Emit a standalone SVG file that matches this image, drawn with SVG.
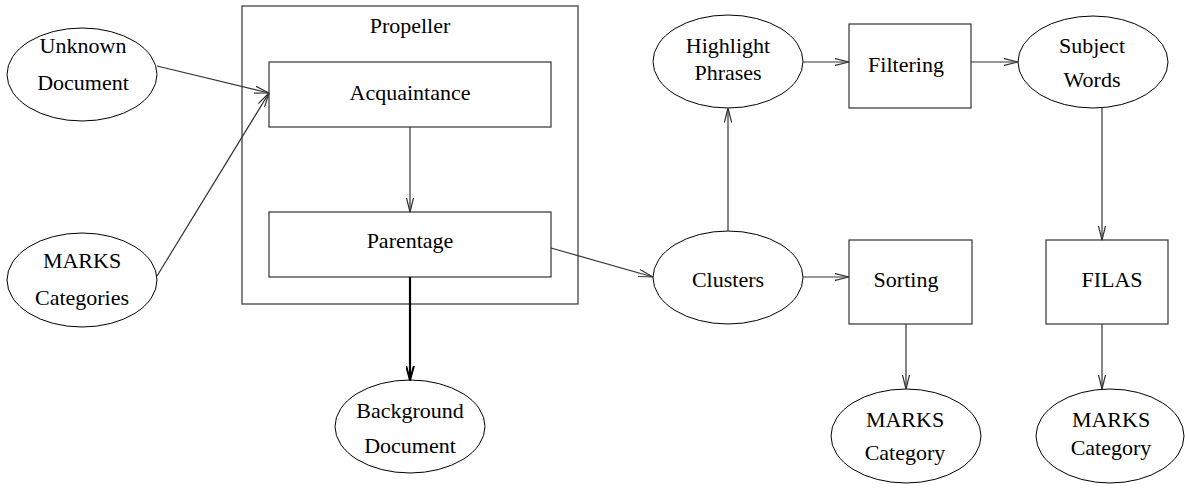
<svg xmlns="http://www.w3.org/2000/svg" width="1185" height="489" viewBox="0 0 1185 489">
<style>
text{font-family:"Liberation Serif","Times New Roman",serif;font-size:22px;fill:#000;text-anchor:middle}
.e{fill:#fff;stroke:#000;stroke-width:1}
.b{fill:#fff;stroke:#333;stroke-width:1.2}
.c{fill:none;stroke:#333;stroke-width:1.2}
.t{fill:none;stroke:#000;stroke-width:2.2}
</style>
<defs>
<marker id="a" viewBox="0 0 15 8" refX="14.5" refY="4" markerWidth="15" markerHeight="8" markerUnits="userSpaceOnUse" orient="auto">
<path d="M0,0.4 L14.5,4 L0,7.6" fill="none" stroke="#333" stroke-width="1.2"/>
</marker>
<marker id="at" viewBox="0 0 15 9" refX="14.5" refY="4.5" markerWidth="15" markerHeight="9" markerUnits="userSpaceOnUse" orient="auto">
<path d="M0,0.5 L14.5,4.5 L0,8.5" fill="none" stroke="#000" stroke-width="2"/>
</marker>
</defs>
<g id="propeller"><rect class="b" x="242" y="6" width="336" height="298"/><text x="410" y="33">Propeller</text></g>
<g id="unknown"><ellipse class="e" cx="82" cy="74.5" rx="75" ry="46.5"/><text x="83" y="53">Unknown</text><text x="83" y="90">Document</text></g>
<g id="marks-categories"><ellipse class="e" cx="82" cy="280" rx="75" ry="47"/><text x="82" y="268">MARKS</text><text x="82" y="305">Categories</text></g>
<g id="acquaintance"><rect class="b" x="269" y="62" width="282" height="65"/><text x="410" y="100">Acquaintance</text></g>
<g id="parentage"><rect class="b" x="269" y="212" width="282" height="65"/><text x="410" y="248">Parentage</text></g>
<g id="background"><ellipse class="e" cx="410" cy="426.5" rx="75" ry="46.5"/><text x="410" y="418">Background</text><text x="410" y="453">Document</text></g>
<g id="highlight"><ellipse class="e" cx="728" cy="61.5" rx="75" ry="46.5"/><text x="728" y="53">Highlight</text><text x="728" y="80">Phrases</text></g>
<g id="filtering"><rect class="b" x="849" y="24" width="122" height="84"/><text x="906" y="72">Filtering</text></g>
<g id="subject"><ellipse class="e" cx="1093" cy="62" rx="75" ry="46"/><text x="1092" y="53">Subject</text><text x="1092" y="87">Words</text></g>
<g id="clusters"><ellipse class="e" cx="728" cy="277.5" rx="75" ry="46.5"/><text x="728" y="287">Clusters</text></g>
<g id="sorting"><rect class="b" x="849" y="240" width="123" height="84"/><text x="906" y="287">Sorting</text></g>
<g id="filas"><rect class="b" x="1046" y="240" width="122" height="84"/><text x="1112" y="287">FILAS</text></g>
<g id="marks-category-1"><ellipse class="e" cx="906" cy="436" rx="75" ry="47"/><text x="905" y="427">MARKS</text><text x="905" y="460">Category</text></g>
<g id="marks-category-2"><ellipse class="e" cx="1110" cy="436" rx="74" ry="47"/><text x="1111" y="427">MARKS</text><text x="1111" y="455">Category</text></g>
<g id="connectors">
<path class="c" d="M157,66 L269,93" marker-end="url(#a)"/>
<path class="c" d="M157,276 L269,93" marker-end="url(#a)"/>
<path class="c" d="M410,127 L410,212" marker-end="url(#a)"/>
<path class="t" d="M410,277 L410,380" marker-end="url(#at)"/>
<path class="c" d="M551,248 L653,277" marker-end="url(#a)"/>
<path class="c" d="M728,231 L728,108" marker-end="url(#a)"/>
<path class="c" d="M803,62 L849,62" marker-end="url(#a)"/>
<path class="c" d="M971,62 L1018,62" marker-end="url(#a)"/>
<path class="c" d="M1102,107 L1102,240" marker-end="url(#a)"/>
<path class="c" d="M803,277 L849,277" marker-end="url(#a)"/>
<path class="c" d="M906,324 L906,389" marker-end="url(#a)"/>
<path class="c" d="M1102,324 L1102,389" marker-end="url(#a)"/>
</g>
</svg>
